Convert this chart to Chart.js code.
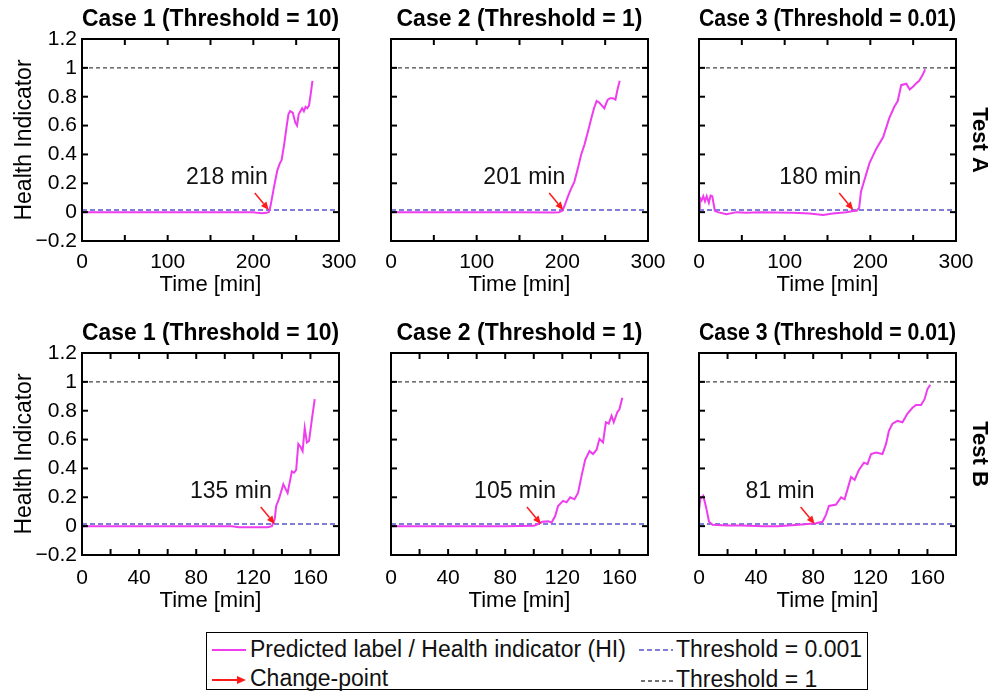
<!DOCTYPE html>
<html>
<head>
<meta charset="utf-8">
<script src="https://cdn.jsdelivr.net/npm/chart.js@4.4.1/dist/chart.umd.min.js"></script>
<style>
  body { margin: 0; background: #fff; width: 1002px; height: 692px; position: relative; overflow: hidden;
         font-family: "Liberation Sans", Arial, sans-serif; }
  canvas { position: absolute; }
  #legend { position: absolute; left: 206px; top: 632px; width: 660px; height: 56px; border: 1.5px solid #000; }
  .lg { position: absolute; font-size: 23px; line-height: 26px; color: #111; white-space: nowrap; }
  .lg svg { position: absolute; }
</style>
</head>
<body>

<div id="legend">
  <svg class="lg" style="left:0;top:0" width="660" height="56">
    <line x1="5" y1="17" x2="39" y2="17" stroke="#ee3cee" stroke-width="2"/>
    <line x1="5" y1="47" x2="32" y2="47" stroke="#ff1a1a" stroke-width="2"/>
    <polygon points="39,47 30,43 30,51" fill="#ff1a1a"/>
    <line x1="432" y1="17" x2="466" y2="17" stroke="#5555cc" stroke-width="1.3" stroke-dasharray="5,3"/>
    <line x1="434" y1="48" x2="466" y2="48" stroke="#444" stroke-width="1.3" stroke-dasharray="4,3"/>
  </svg>
  <div class="lg" style="left:43px;top:3px">Predicted label / Health indicator (HI)</div>
  <div class="lg" style="left:43px;top:32px">Change-point</div>
  <div class="lg" style="left:469px;top:3px">Threshold = 0.001</div>
  <div class="lg" style="left:469px;top:33px">Threshold = 1</div>
</div>

<script>
// ---- data ----
const caseTitles = ['Case 1 (Threshold = 10)', 'Case 2 (Threshold = 1)', 'Case 3 (Threshold = 0.01)'];
const testNames = ['Test A', 'Test B'];
const xMaxes = [300, 180];
const changeA = [218, 201, 180];
const changeB = [135, 105, 81];
const thresholdLow = 0.015;
const thresholdHigh = 1;

const tA1 = [0, 50, 100, 150, 200, 205, 210, 215, 218, 220, 224, 228, 231, 233, 236, 239, 241, 243, 246, 249, 251, 253, 257, 259, 261, 263, 265, 267, 269];
const hA1 = [0, 0, 0, 0, 0, -0.005, -0.008, -0.005, 0, 0.04, 0.17, 0.29, 0.34, 0.36, 0.47, 0.6, 0.68, 0.70, 0.69, 0.62, 0.6, 0.68, 0.72, 0.70, 0.73, 0.72, 0.74, 0.82, 0.91];

const tA2 = [0, 50, 100, 150, 190, 196, 200, 203, 206, 210, 214, 218, 222, 226, 230, 234, 237, 240, 243, 246, 249, 251, 253, 256, 259, 262, 264, 267];
const hA2 = [0, 0, 0, 0, -0.003, 0, 0.01, 0.05, 0.10, 0.16, 0.21, 0.30, 0.40, 0.47, 0.56, 0.655, 0.72, 0.77, 0.76, 0.74, 0.72, 0.75, 0.78, 0.79, 0.79, 0.78, 0.84, 0.91];

const tA3 = [0, 1, 3, 5, 7, 9, 11.5, 13.5, 15.5, 18.5, 22, 32, 44, 55, 71, 90, 110, 129, 145, 156, 172, 180, 184, 187, 189, 192, 197, 199, 207, 215, 222, 228, 232, 236, 242, 246, 250, 253, 257, 261, 264];
const hA3 = [0.02, 0.10, 0.08, 0.11, 0.075, 0.11, 0.065, 0.115, 0.11, 0.01, 0, -0.014, 0, -0.005, 0, -0.003, -0.005, -0.01, -0.02, -0.01, 0, 0.008, 0.01, 0.03, 0.14, 0.2, 0.3, 0.34, 0.44, 0.52, 0.65, 0.73, 0.77, 0.88, 0.89, 0.85, 0.87, 0.89, 0.91, 0.95, 0.99];

const tB1 = [0, 40, 80, 105, 110, 120, 130, 133, 135, 136, 138, 141, 142.5, 144, 147, 148.5, 150, 151.5, 153, 154.5, 156, 157.5, 159, 161, 163];
const hB1 = [0, 0, 0, 0, -0.008, -0.008, -0.008, 0, 0.05, 0.14, 0.19, 0.29, 0.26, 0.23, 0.38, 0.37, 0.39, 0.57, 0.55, 0.52, 0.68, 0.58, 0.59, 0.74, 0.88];

const tB2 = [0, 40, 80, 100, 103, 106, 110, 112.5, 115, 117, 120.5, 123, 125.5, 128.5, 131, 133.5, 136, 139, 141.5, 144, 146, 148.5, 150.5, 152.5, 154.5, 156, 158.5, 160, 162];
const hB2 = [0, 0, 0, 0.002, 0.015, 0.03, 0.033, 0.025, 0.07, 0.14, 0.175, 0.165, 0.2, 0.186, 0.23, 0.35, 0.46, 0.52, 0.5, 0.53, 0.605, 0.58, 0.72, 0.71, 0.765, 0.72, 0.79, 0.81, 0.89];

const tB3 = [0, 1, 3, 5, 7, 9.5, 20, 30, 45, 55, 70, 82, 86.5, 89, 91, 96, 99.5, 102, 104, 106.5, 109, 112, 115.5, 118, 120.5, 124, 128.5, 131, 133, 135.5, 139, 142.5, 146, 149.5, 152, 155.5, 158, 160, 162];
const hB3 = [0.11, 0.19, 0.21, 0.13, 0.03, 0.01, 0.005, 0.005, 0, 0, 0.01, 0.02, 0.03, 0.08, 0.14, 0.15, 0.2, 0.186, 0.255, 0.34, 0.32, 0.39, 0.44, 0.43, 0.5, 0.51, 0.5, 0.57, 0.66, 0.71, 0.73, 0.72, 0.78, 0.82, 0.84, 0.84, 0.88, 0.95, 0.98];

// ---- layout ----
const FONT = '"Liberation Sans", Arial, sans-serif';
const colLeft = [82, 391, 699];
const rowTop = [39, 353];
const plotW = 257, plotH = 202;
const padT = 40, padB = 65, padR = 45;
const tickPad = [9, 11];
const xTitlePad = [8, 6];
// nudges for the "xxx min" labels (px, relative to arrow tip)
const labelDx = [[-1, 2, 8], [-3, 15, 0]];

// inside ticks, box frame, change-point arrow and side label
const framePlugin = {
  id: 'frame',
  afterDraw(chart, args, opts) {
    const { ctx, chartArea: a } = chart;
    const x = chart.scales.x, y = chart.scales.y;
    ctx.save();
    ctx.strokeStyle = '#000';
    ctx.lineWidth = 2;
    for (let v = x.min; v <= x.max + 1e-9; v += opts.step) {
      const px = x.getPixelForValue(v);
      ctx.beginPath(); ctx.moveTo(px, a.bottom); ctx.lineTo(px, a.bottom - 6); ctx.stroke();
      ctx.beginPath(); ctx.moveTo(px, a.top); ctx.lineTo(px, a.top + 6); ctx.stroke();
    }
    for (let v = y.min; v <= y.max + 1e-9; v += 0.2) {
      const py = y.getPixelForValue(v);
      ctx.beginPath(); ctx.moveTo(a.left, py); ctx.lineTo(a.left + 6, py); ctx.stroke();
      ctx.beginPath(); ctx.moveTo(a.right, py); ctx.lineTo(a.right - 6, py); ctx.stroke();
    }
    ctx.strokeRect(a.left, a.top, a.right - a.left, a.bottom - a.top);

    // change-point arrow
    const tx = x.getPixelForValue(opts.cp);
    const ty = y.getPixelForValue(thresholdLow);
    const sx = tx - 14, sy = ty - 17;
    const ang = Math.atan2(ty - sy, tx - sx);
    const hl = 8, hw = 3.5;
    const bx = tx - hl * Math.cos(ang), by = ty - hl * Math.sin(ang);
    ctx.strokeStyle = '#ff1a1a';
    ctx.fillStyle = '#ff1a1a';
    ctx.lineWidth = 1.5;
    ctx.beginPath(); ctx.moveTo(sx, sy); ctx.lineTo(bx, by); ctx.stroke();
    ctx.beginPath();
    ctx.moveTo(tx, ty);
    ctx.lineTo(bx + hw * Math.sin(ang), by - hw * Math.cos(ang));
    ctx.lineTo(bx - hw * Math.sin(ang), by + hw * Math.cos(ang));
    ctx.closePath(); ctx.fill();

    ctx.fillStyle = '#111';
    ctx.font = '23px ' + FONT;
    ctx.textAlign = 'right';
    ctx.textBaseline = 'middle';
    ctx.fillText(opts.cp + ' min', tx + opts.dx, ty - 32);

    if (opts.side) {
      ctx.translate(a.right + 23, (a.top + a.bottom) / 2);
      ctx.rotate(Math.PI / 2);
      ctx.font = 'bold 22px ' + FONT;
      ctx.textAlign = 'center';
      ctx.fillStyle = '#000';
      ctx.fillText(opts.side, 0, 0);
    }
    ctx.restore();
  }
};

const series = [[[tA1, hA1], [tA2, hA2], [tA3, hA3]], [[tB1, hB1], [tB2, hB2], [tB3, hB3]]];
const changes = [changeA, changeB];

function makePanel(row, col) {
  const [t, h] = series[row][col];
  const xMax = xMaxes[row];
  const step = row === 0 ? 50 : 20;
  const labelStep = row === 0 ? 100 : 40;
  const padL = col === 0 ? 82 : 40;

  const cv = document.createElement('canvas');
  cv.width = padL + plotW + padR;
  cv.height = padT + plotH + padB;
  cv.style.left = (colLeft[col] - padL) + 'px';
  cv.style.top = (rowTop[row] - padT) + 'px';
  document.body.appendChild(cv);

  new Chart(cv, {
    type: 'line',
    data: {
      datasets: [
        { data: t.map((v, i) => ({ x: v, y: h[i] })), borderColor: '#ee3cee', borderWidth: 2, pointRadius: 0 },
        { data: [{ x: 0, y: thresholdLow }, { x: xMax, y: thresholdLow }], borderColor: '#5555cc',
          borderWidth: 1.3, borderDash: [5, 3], pointRadius: 0 },
        { data: [{ x: 0, y: thresholdHigh }, { x: xMax, y: thresholdHigh }], borderColor: '#444',
          borderWidth: 1.3, borderDash: [4, 3], pointRadius: 0 }
      ]
    },
    options: {
      responsive: false,
      animation: false,
      layout: { padding: { top: padT - 33.6, left: 0, right: padR, bottom: 0 } },
      plugins: {
        legend: { display: false },
        tooltip: { enabled: false },
        title: {
          display: true, text: caseTitles[col], fullSize: false, color: '#000',
          font: { family: FONT, size: 23, weight: 'bold', lineHeight: 1.2 },
          padding: { top: 0, bottom: 6 }
        },
        frame: { cp: changes[row][col], dx: labelDx[row][col], step: step,
                 side: col === 2 ? testNames[row] : null }
      },
      scales: {
        x: {
          type: 'linear', min: 0, max: xMax,
          grid: { display: false, drawTicks: false }, border: { display: false },
          ticks: {
            stepSize: step, autoSkip: false, maxRotation: 0, padding: tickPad[row], color: '#000',
            font: { family: FONT, size: 21 },
            callback: v => (v % labelStep === 0 ? String(v) : '')
          },
          title: { display: true, text: 'Time [min]', color: '#000', font: { family: FONT, size: 22 },
                   padding: { top: 0, bottom: xTitlePad[row] } },
          afterFit: s => { s.height = padB; s.paddingLeft = 0; s.paddingRight = 0; }
        },
        y: {
          min: -0.2, max: 1.2,
          grid: { display: false, drawTicks: false }, border: { display: false },
          ticks: {
            display: col === 0, stepSize: 0.2, padding: 5, color: '#000',
            font: { family: FONT, size: 21 },
            callback: v => String(Math.round(v * 10) / 10).replace('-', '\u2212')
          },
          title: { display: col === 0, text: 'Health Indicator', color: '#000', font: { family: FONT, size: 23 },
                   padding: { top: 11, bottom: 0 } },
          afterFit: s => { s.width = padL; s.paddingTop = 0; s.paddingBottom = 0; }
        }
      }
    },
    plugins: [framePlugin]
  });
}

for (let r = 0; r < 2; r++) {
  for (let c = 0; c < 3; c++) makePanel(r, c);
}
</script>
</body>
</html>
